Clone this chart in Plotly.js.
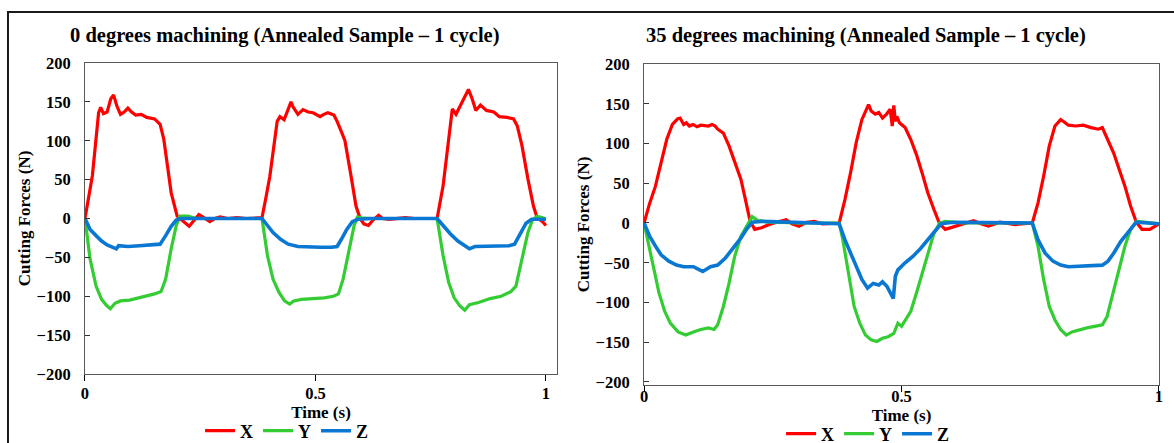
<!DOCTYPE html>
<html>
<head>
<meta charset="utf-8">
<script src="https://cdn.plot.ly/plotly-3.0.1.min.js"></script>
<style>html,body{margin:0;padding:0;background:#fff;overflow:hidden;}#chart{width:1174px;height:460px;}</style>
</head>
<body>
<div id="chart"></div>
<script>
// ---------- Data (time in s, force in N) ----------
const seriesNames = ["X", "Y", "Z"];
const titleLeft = "0 degrees machining (Annealed Sample – 1 cycle)";
const titleRight = "35 degrees machining (Annealed Sample – 1 cycle)";
const xTitle = "Time (s)";
const yTitle = "Cutting Forces (N)";

// 0 degrees
const t0X = [0,0.008,0.016,0.0295,0.034,0.040,0.048,0.056,0.062,0.069,0.077,0.085,0.093,0.101,0.110,0.122,0.134,0.151,0.163,0.171,0.179,0.187,0.200,0.208,0.216,0.226,0.236,0.247,0.258,0.271,0.282,0.293,0.310,0.330,0.350,0.370,0.384,0.392,0.401,0.417,0.423,0.432,0.441,0.447,0.451,0.462,0.473,0.484,0.495,0.510,0.518,0.527,0.540,0.547,0.556,0.564,0.576,0.588,0.597,0.605,0.615,0.625,0.637,0.646,0.660,0.674,0.695,0.715,0.740,0.764,0.777,0.789,0.797,0.805,0.813,0.823,0.832,0.840,0.848,0.858,0.871,0.887,0.899,0.916,0.930,0.938,0.948,0.961,0.973,0.981,0.993,1.0];
const f0X = [0,25,55,136,143,135,137,154,159,145,134,137,142,137,133,134,130,128,121,102,68,33,3,-1,-6,-10,-3,5,1,-4,0,2,0,1,0,0,1,25,54,125,131,127,142,150,144,134,140,137,136,131,134,136,133,125,112,100,59,16,0,-7,-9,-2,4,0,-1,0,1,0,0,0,42,98,141,134,143,154,166,154,139,146,139,137,131,130,128,119,94,51,16,1,-4,-9];

const t0Y = [0,0.005,0.011,0.024,0.036,0.047,0.055,0.065,0.077,0.097,0.118,0.134,0.151,0.165,0.175,0.187,0.198,0.206,0.224,0.241,0.300,0.384,0.396,0.408,0.421,0.433,0.444,0.453,0.470,0.494,0.519,0.539,0.550,0.560,0.572,0.584,0.591,0.600,0.620,0.700,0.764,0.777,0.789,0.801,0.813,0.824,0.834,0.854,0.879,0.903,0.924,0.935,0.948,0.961,0.971,0.981,0.993,1.0];
const f0Y = [0,-25,-52,-87,-104,-112,-116,-109,-106,-105,-102,-99,-97,-94,-78,-39,-9,3,3,0,0,0,-48,-78,-95,-106,-110,-106,-104,-103,-102,-100,-97,-78,-44,-9,2,1,0,0,0,-48,-82,-102,-112,-118,-111,-108,-103,-100,-94,-87,-52,-18,-2,3,1,-1];

const t0Z = [0,0.011,0.024,0.036,0.048,0.061,0.068,0.073,0.093,0.118,0.142,0.163,0.175,0.187,0.198,0.208,0.250,0.300,0.384,0.396,0.408,0.425,0.441,0.462,0.486,0.511,0.535,0.547,0.556,0.568,0.580,0.592,0.620,0.700,0.764,0.777,0.793,0.809,0.823,0.834,0.846,0.871,0.895,0.920,0.932,0.943,0.957,0.969,1.0];
const f0Z = [0,-14,-22,-29,-34,-37,-39,-35,-36,-35,-34,-33,-22,-10,-2,0,0,0,0,-9,-18,-27,-33,-36,-37,-37,-37,-36,-27,-14,-4,-1,0,0,0,-9,-20,-29,-35,-39,-36,-36,-35,-35,-33,-20,-6,-1,-1];

// 35 degrees
const t35X = [0,0.011,0.022,0.033,0.044,0.055,0.065,0.070,0.077,0.082,0.088,0.095,0.103,0.110,0.118,0.125,0.132,0.138,0.143,0.154,0.165,0.176,0.188,0.197,0.206,0.215,0.228,0.243,0.257,0.276,0.287,0.301,0.316,0.331,0.346,0.379,0.390,0.401,0.412,0.423,0.432,0.436,0.441,0.449,0.456,0.463,0.471,0.478,0.482,0.485,0.488,0.491,0.496,0.507,0.518,0.529,0.540,0.551,0.563,0.574,0.585,0.599,0.618,0.640,0.654,0.669,0.691,0.721,0.754,0.765,0.776,0.787,0.798,0.809,0.816,0.824,0.838,0.853,0.868,0.882,0.890,0.901,0.912,0.923,0.934,0.945,0.956,0.967,0.982,0.993,1.0];
const f35X = [0,25,46,76,105,124,131,132,124,126,122,124,121,123,123,122,124,122,118,113,97,76,55,29,2,-8,-6,-2,1,4,-1,-4,1,2,-1,0,29,63,101,130,143,149,141,137,139,132,137,143,122,148,128,134,126,120,105,86,63,38,17,-1,-8,-5,-1,3,-1,-4,1,-2,0,25,59,97,122,130,127,123,122,123,120,118,120,105,88,67,46,21,1,-8,-8,-4,-1];

const t35Y = [0,0.007,0.018,0.029,0.040,0.051,0.066,0.081,0.096,0.110,0.125,0.136,0.143,0.154,0.165,0.176,0.188,0.199,0.210,0.221,0.243,0.300,0.379,0.386,0.397,0.408,0.419,0.430,0.441,0.452,0.463,0.474,0.485,0.493,0.500,0.507,0.518,0.529,0.540,0.551,0.563,0.574,0.585,0.620,0.754,0.765,0.776,0.787,0.798,0.809,0.820,0.831,0.846,0.860,0.875,0.890,0.899,0.912,0.923,0.934,0.945,0.956,0.971,1.0];
const f35Y = [0,-21,-55,-88,-111,-126,-137,-141,-137,-134,-132,-134,-128,-105,-76,-42,-17,-4,8,3,1,0,0,-21,-63,-105,-126,-141,-147,-149,-145,-143,-139,-126,-130,-122,-111,-88,-63,-38,-13,0,2,0,0,-29,-71,-105,-122,-134,-141,-137,-134,-132,-130,-128,-118,-84,-55,-29,-8,2,1,-1];

const t35Z = [0,0.011,0.022,0.033,0.048,0.063,0.077,0.096,0.105,0.114,0.129,0.143,0.158,0.173,0.188,0.199,0.210,0.228,0.265,0.379,0.390,0.401,0.412,0.423,0.434,0.445,0.456,0.463,0.472,0.478,0.484,0.488,0.493,0.507,0.522,0.537,0.551,0.566,0.577,0.600,0.754,0.765,0.779,0.794,0.809,0.824,0.846,0.868,0.890,0.901,0.912,0.926,0.941,0.956,1.0];
const f35Z = [0,-17,-29,-40,-48,-53,-55,-55,-58,-61,-55,-53,-44,-32,-19,-8,1,2,1,-1,-21,-38,-55,-71,-82,-76,-78,-74,-80,-88,-95,-67,-59,-50,-42,-32,-21,-8,-1,1,0,-21,-38,-48,-53,-55,-54,-53,-53,-48,-38,-23,-11,1,-1];

const colors = ["#ff0000", "#33cc33", "#0a78d2"];

// ---------- Traces ----------
const FONT = "Liberation Serif, Times New Roman, serif";
function tr(x, y, i, xa, ya, lg) {
  return {x: x, y: y, type: "scatter", mode: "lines", name: seriesNames[i],
    line: {color: colors[i], width: i === 2 ? 3.6 : 3.2},
    xaxis: xa, yaxis: ya, legend: lg};
}
const data = [
  tr(t0X, f0X, 0, "x", "y", "legend"),
  tr(t0Y, f0Y, 1, "x", "y", "legend"),
  tr(t0Z, f0Z, 2, "x", "y", "legend"),
  tr(t35X, f35X, 0, "x2", "y2", "legend2"),
  tr(t35Y, f35Y, 1, "x2", "y2", "legend2"),
  tr(t35Z, f35Z, 2, "x2", "y2", "legend2")
];

const H = 460; // figure slightly taller than the 443px window; the bottom strip is cropped like the reference
const tickFont = {family: FONT, size: 16.5, color: "#000", weight: "bold"};
const axTitleFont = {family: FONT, size: 17, color: "#000", weight: "bold"};
function xax(domain, range, anchor, lblShift) {
  return {domain: domain, range: range, anchor: anchor, tickvals: [0, 0.5, 1],
    ticks: "outside", ticklen: 6, tickcolor: "#000", showgrid: false, zeroline: false,
    showline: true, mirror: true, linecolor: "#595959", linewidth: 1,
    tickfont: tickFont, ticklabelstandoff: lblShift,
    title: {text: xTitle, font: axTitleFont, standoff: 0}};
}
function yax(domain, range, anchor) {
  return {domain: domain, range: range, anchor: anchor, dtick: 50,
    ticks: "inside", ticklen: 5, tickcolor: "#333", showgrid: false, zeroline: false,
    showline: true, mirror: true, linecolor: "#595959", linewidth: 1,
    tickfont: tickFont, ticklabelstandoff: 10,
    title: {text: yTitle, font: axTitleFont, standoff: 1}};
}
function py(p) { return 1 - p / H; }

const legFont = {family: FONT, size: 18, color: "#000", weight: "bold"};
const layout = {
  width: 1174, height: H,
  margin: {l: 0, r: 0, t: 0, b: 0},
  paper_bgcolor: "#fff", plot_bgcolor: "#fff",
  showlegend: true,
  xaxis: xax([0.0724, 0.4744], [0, 1.024], "y", -2),
  yaxis: yax([py(374), py(63)], [-200, 200], "x"),
  xaxis2: xax([0.5486, 0.9872], [0, 1], "y2", -10),
  yaxis2: yax([py(385), py(64)], [-203.8, 200], "x2"),
  legend: {orientation: "h", x: 0.2445, xanchor: "center", y: py(431), yanchor: "middle",
    font: legFont, bgcolor: "rgba(0,0,0,0)", tracegroupgap: 0, itemwidth: 30},
  legend2: {orientation: "h", x: 0.7394, xanchor: "center", y: py(434), yanchor: "middle",
    font: legFont, bgcolor: "rgba(0,0,0,0)", tracegroupgap: 0, itemwidth: 30},
  annotations: [
    {text: titleLeft, xref: "paper", yref: "paper", x: 0.2428, y: py(35), xanchor: "center", yanchor: "middle",
     showarrow: false, font: {family: FONT, size: 20.5, color: "#000", weight: "bold"}},
    {text: titleRight, xref: "paper", yref: "paper", x: 0.7376, y: py(35), xanchor: "center", yanchor: "middle",
     showarrow: false, font: {family: FONT, size: 20.5, color: "#000", weight: "bold"}}
  ],
  shapes: [
    {type: "rect", xref: "paper", yref: "paper", x0: 0.0068, x1: 1.05, y0: -0.2, y1: py(12),
     line: {color: "#1a1a1a", width: 2}, fillcolor: "rgba(0,0,0,0)", layer: "below"}
  ]
};

Plotly.newPlot("chart", data, layout, {staticPlot: true, displayModeBar: false});
</script>
</body>
</html>
